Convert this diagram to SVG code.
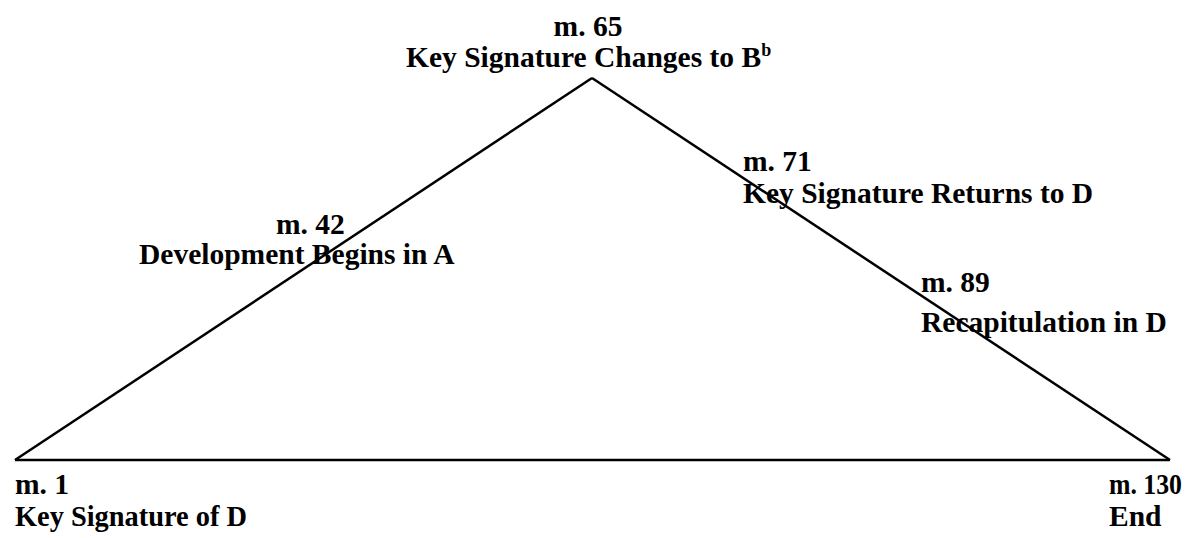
<svg xmlns="http://www.w3.org/2000/svg" width="1197" height="538" viewBox="0 0 1197 538">
<style>
text{font-family:"Liberation Serif","Times New Roman",serif;font-weight:bold;font-size:29.5px;fill:#000}
.mid{text-anchor:middle}
.sup{font-size:18px}
.edge{stroke:#000;stroke-width:2.5;fill:none}
</style>
<rect width="1197" height="538" fill="#fff"/>
<g id="connectors">
<line class="edge" x1="15" y1="460" x2="592" y2="78"/>
<line class="edge" x1="592" y1="78" x2="1170" y2="460"/>
<line class="edge" x1="15" y1="460" x2="1170" y2="460"/>
</g>
<g id="m65"><text class="mid" x="588" y="36">m. 65</text><text x="406" y="67">Key Signature Changes to B<tspan class="sup" dy="-11">b</tspan></text></g>
<g id="m42"><text x="276" y="234">m. 42</text><text x="139" y="264">Development Begins in A</text></g>
<g id="m71"><text x="743" y="171">m. 71</text><text x="743" y="203">Key Signature Returns to D</text></g>
<g id="m89"><text x="921" y="292">m. 89</text><text x="921" y="332">Recapitulation in D</text></g>
<g id="m1"><text x="15" y="494">m. 1</text><text x="15" y="526" textLength="232" lengthAdjust="spacingAndGlyphs">Key Signature of D</text></g>
<g id="m130"><text x="1109" y="494" textLength="73" lengthAdjust="spacingAndGlyphs">m. 130</text><text x="1109" y="526">End</text></g>
</svg>
